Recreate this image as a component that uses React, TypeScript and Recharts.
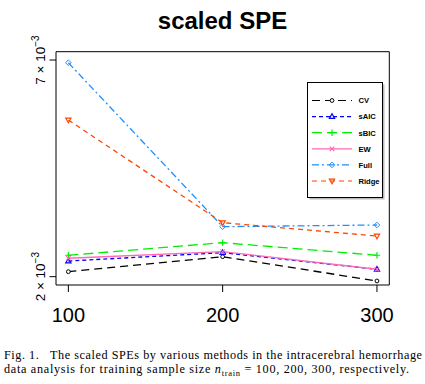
import React from 'react';
import { LineChart, Line, XAxis, YAxis, ReferenceArea, Legend } from 'recharts';

// ---- data ----
const sampleSizes = [100, 200, 300];
const cvValues = [0.002115, 0.002461, 0.001901];
const sAICValues = [0.002362, 0.002554, 0.002171];
const sBICValues = [0.002494, 0.002785, 0.002494];
const ewValues = [0.002425, 0.002577, 0.002171];
const fullValues = [0.006937, 0.003154, 0.003193];
const ridgeValues = [0.005616, 0.003246, 0.002939];
const seriesNames = ['CV', 'sAIC', 'sBIC', 'EW', 'Full', 'Ridge'];
const xTicks = [100, 200, 300];
const yTicks = [0.002, 0.007];
const yTickMantissas = ['2', '7'];
const yTickExponent = '\u22123';
const titleText = 'scaled SPE';
const captionLine1 = 'Fig. 1.\u00a0\u00a0\u00a0The scaled SPEs by various methods in the intracerebral hemorrhage';
const captionLine2a = 'data analysis for training sample size ';
const captionLine2b = ' = 100, 200, 300, respectively.';

const seriesValues = [cvValues, sAICValues, sBICValues, ewValues, fullValues, ridgeValues];
const data = sampleSizes.map((n, i) => {
  const row: any = { n };
  seriesNames.forEach((name, s) => {
    row[name] = seriesValues[s][i];
  });
  return row;
});

// ---- styles ----
const styles: Record<string, { color: string; dash?: string; marker: string }> = {
  CV: { color: '#000000', dash: '8 5', marker: 'circle' },
  sAIC: { color: '#0000FF', dash: '4 3', marker: 'triUp' },
  sBIC: { color: '#00EE00', dash: '10 5', marker: 'plus' },
  EW: { color: '#FF69B4', dash: undefined, marker: 'cross' },
  Full: { color: '#1E90FF', dash: '7 3 2 3', marker: 'diamond' },
  Ridge: { color: '#FF4500', dash: '5 4', marker: 'triDown' },
};

const xDomain = [92, 308];
const yDomain = [0.001808, 0.007192];
const serif = "'Liberation Serif', 'Times New Roman', Times, serif";
const sans = "'Liberation Sans', Arial, Helvetica, sans-serif";

function MarkerShape({ shape, cx, cy, color }: { shape: string; cx: number; cy: number; color: string }) {
  const sw = 1;
  switch (shape) {
    case 'circle':
      return <circle cx={cx} cy={cy} r={1.9} fill="#fff" stroke={color} strokeWidth={sw} />;
    case 'triUp':
      return (
        <polygon
          points={`${cx},${cy - 2.8} ${cx - 2.6},${cy + 1.8} ${cx + 2.6},${cy + 1.8}`}
          fill="none"
          stroke={color}
          strokeWidth={sw + 0.2}
        />
      );
    case 'triDown':
      return (
        <polygon
          points={`${cx},${cy + 2.8} ${cx - 2.6},${cy - 1.8} ${cx + 2.6},${cy - 1.8}`}
          fill="none"
          stroke={color}
          strokeWidth={sw + 0.2}
        />
      );
    case 'plus':
      return (
        <g stroke={color} strokeWidth={sw + 0.2}>
          <line x1={cx - 3.2} y1={cy} x2={cx + 3.2} y2={cy} />
          <line x1={cx} y1={cy - 3.2} x2={cx} y2={cy + 3.2} />
        </g>
      );
    case 'cross':
      return (
        <g stroke={color} strokeWidth={sw + 0.1}>
          <line x1={cx - 2.2} y1={cy - 2.2} x2={cx + 2.2} y2={cy + 2.2} />
          <line x1={cx - 2.2} y1={cy + 2.2} x2={cx + 2.2} y2={cy - 2.2} />
        </g>
      );
    case 'diamond':
      return (
        <polygon
          points={`${cx},${cy - 2.8} ${cx + 2.8},${cy} ${cx},${cy + 2.8} ${cx - 2.8},${cy}`}
          fill="none"
          stroke={color}
          strokeWidth={sw}
        />
      );
    default:
      return null;
  }
}

const makeDot = (name: string) => (props: any) => {
  const st = styles[name];
  if (props.cx == null || props.cy == null) return <g key={`${name}-${props.index}`} />;
  return (
    <g key={`${name}-${props.index}`}>
      <MarkerShape shape={st.marker} cx={props.cx} cy={props.cy} color={st.color} />
    </g>
  );
};

const XTick = (props: any) => {
  const { x, payload } = props;
  return (
    <text x={x} y={322} textAnchor="middle" fontSize={20} fontFamily={sans} fill="#000">
      {payload.value}
    </text>
  );
};

const YTick = (props: any) => {
  const { y, payload, index } = props;
  const idx = yTicks.indexOf(payload.value);
  const mant = yTickMantissas[idx >= 0 ? idx : index];
  const bx = 45;
  return (
    <text
      x={bx}
      y={y}
      transform={`rotate(-90 ${bx} ${y})`}
      textAnchor="middle"
      fontSize={13.5}
      fontFamily={sans}
      fill="#000"
    >
      {mant} {'\u00d7'} 10
      <tspan fontSize={10} dy={-6}>{yTickExponent}</tspan>
    </text>
  );
};

const LegendBox = () => {
  const w = 75;
  const h = 115;
  return (
    <svg width={w + 3} height={h + 3} style={{ display: 'block', overflow: 'visible' }}>
      <rect x={2.5} y={2.5} width={w} height={h} fill="#bbb" />
      <rect x={0.5} y={0.5} width={w} height={h} fill="#fff" stroke="#000" strokeWidth={1} />
      {seriesNames.map((name, i) => {
        const st = styles[name];
        const cy = 18.5 + i * 16.1;
        return (
          <g key={name}>
            <line x1={5} y1={cy} x2={45} y2={cy} stroke={st.color} strokeWidth={1.2} strokeDasharray={st.dash} />
            <MarkerShape shape={st.marker} cx={25} cy={cy} color={st.color} />
            <text x={51.5} y={cy + 2.8} fontSize={7.6} fontWeight="bold" fontFamily={sans} fill="#000">
              {name}
            </text>
          </g>
        );
      })}
    </svg>
  );
};

export default function App() {
  return (
    <div style={{ position: 'absolute', left: 0, top: 0, width: 425, height: 384, background: '#fff' }}>
      <LineChart
        width={425}
        height={384}
        data={data}
        margin={{ top: 51.7, right: 35.7, bottom: 59, left: 0 }}
      >
        <XAxis
          dataKey="n"
          type="number"
          domain={xDomain}
          allowDataOverflow
          ticks={xTicks}
          height={40}
          axisLine={false}
          tickLine={{ stroke: '#000', strokeWidth: 1 }}
          tickSize={7}
          tick={<XTick />}
          interval={0}
        />
        <YAxis
          type="number"
          domain={yDomain}
          allowDataOverflow
          ticks={yTicks}
          width={56}
          axisLine={false}
          tickLine={{ stroke: '#000', strokeWidth: 1 }}
          tickSize={6.5}
          tick={<YTick />}
          interval={0}
        />
        <ReferenceArea
          x1={xDomain[0]}
          x2={xDomain[1]}
          y1={yDomain[0]}
          y2={yDomain[1]}
          fill="none"
          fillOpacity={0}
          stroke="#000"
          strokeWidth={1}
          ifOverflow="visible"
        />
        {seriesNames.map((name) => (
          <Line
            key={name}
            dataKey={name}
            type="linear"
            stroke={styles[name].color}
            strokeWidth={1.3}
            strokeDasharray={styles[name].dash}
            dot={makeDot(name)}
            activeDot={false}
            isAnimationActive={false}
          />
        ))}
        <Legend
          layout="horizontal"
          verticalAlign="middle"
          align="center"
          content={<LegendBox />}
          wrapperStyle={{ left: 306.5, top: 81.5, width: 78, height: 118 }}
        />
      </LineChart>
      <svg
        width={425}
        height={384}
        style={{ position: 'absolute', left: 0, top: 0, pointerEvents: 'none' }}
      >
        <text x={222.5} y={28.5} textAnchor="middle" fontSize={24} fontWeight="bold" fontFamily={sans} fill="#000">
          {titleText}
        </text>
        <text
          x={4}
          y={358.5}
          fontSize={12.2}
          fontFamily={serif}
          fill="#000"
          textLength={418}
          lengthAdjust="spacing"
        >
          {captionLine1}
        </text>
        <text
          x={4}
          y={373.3}
          fontSize={12.2}
          fontFamily={serif}
          fill="#000"
          textLength={405}
          lengthAdjust="spacing"
        >
          {captionLine2a}
          <tspan fontStyle="italic">n</tspan>
          <tspan fontSize={8.5} dy={2.5}>train</tspan>
          <tspan dy={-2.5}>{captionLine2b}</tspan>
        </text>
      </svg>
    </div>
  );
}
